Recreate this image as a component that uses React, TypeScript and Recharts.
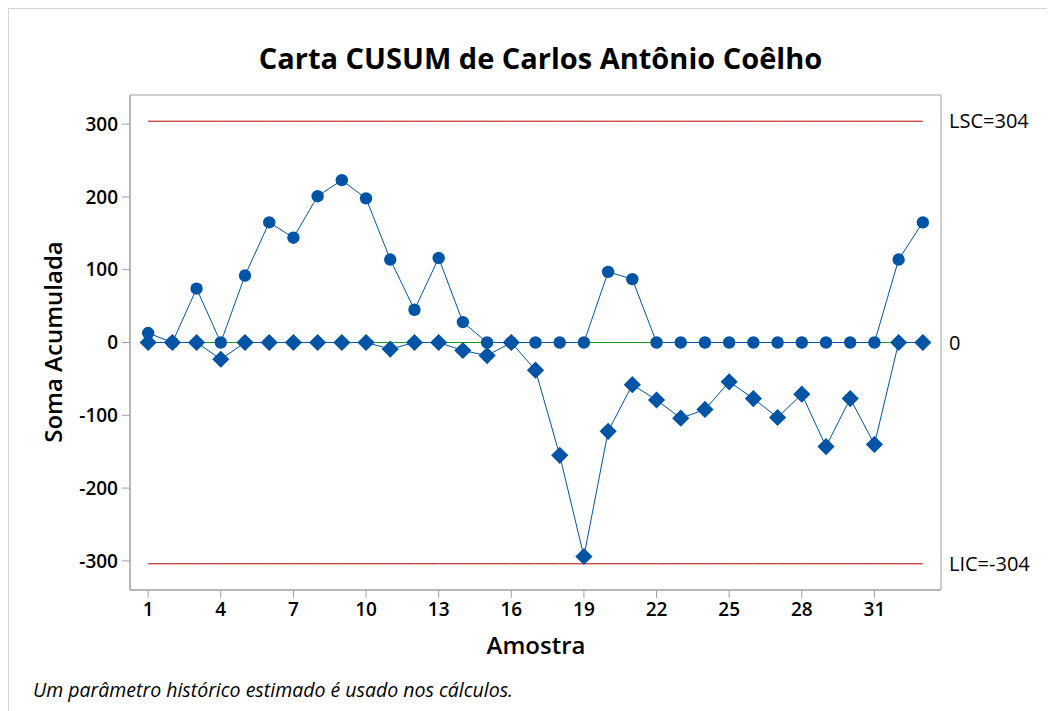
import { ComposedChart, Line, XAxis, YAxis, ReferenceArea } from 'recharts';

const samples = [1, 2, 3, 4, 5, 6, 7, 8, 9, 10, 11, 12, 13, 14, 15, 16, 17, 18, 19, 20, 21, 22, 23, 24, 25, 26, 27, 28, 29, 30, 31, 32, 33];
const upperCusum = [13, 0, 74, 0, 92, 165, 144, 201, 223, 198, 114, 45, 116, 28, 0, 0, 0, 0, 0, 97, 87, 0, 0, 0, 0, 0, 0, 0, 0, 0, 0, 114, 165];
const lowerCusum = [0, 0, 0, -23, 0, 0, 0, 0, 0, 0, -9, 0, 0, -11, -18, 0, -38, -155, -294, -122, -58, -79, -104, -92, -54, -77, -103, -71, -143, -77, -140, 0, 0];
const upperLimit = 304;
const lowerLimit = -304;
const centerLine = 0;

const xDomain = [0.25, 33.75];
const yDomain = [-340, 340];
const xTicks = [1, 4, 7, 10, 13, 16, 19, 22, 25, 28, 31];
const yTicks = [-300, -200, -100, 0, 100, 200, 300];
const limitTicks = [lowerLimit, centerLine, upperLimit];
const limitLabels = ['LIC=-304', '0', 'LSC=304'];

const BLUE = '#0054A6';
const FONT = "'Open Sans', 'Noto Sans', sans-serif";

const data = samples.map((s, i) => ({
  sample: s,
  upper: upperCusum[i],
  lower: lowerCusum[i],
  lsc: upperLimit,
  lic: lowerLimit,
  center: centerLine,
}));

const CircleDot = (props: any) => {
  const { cx, cy, index } = props;
  if (cx == null || cy == null) return null;
  return <circle key={`c-${index}`} cx={cx} cy={cy} r={6.2} fill={BLUE} stroke="none" />;
};

const DiamondDot = (props: any) => {
  const { cx, cy, index } = props;
  if (cx == null || cy == null) return null;
  const h = 8.6;
  return (
    <path
      key={`d-${index}`}
      d={`M${cx},${cy - h}L${cx + h},${cy}L${cx},${cy + h}L${cx - h},${cy}Z`}
      fill={BLUE}
      stroke="none"
    />
  );
};

export default function App() {
  return (
    <div
      style={{
        position: 'relative',
        width: 1047,
        height: 703,
        borderTop: '1px solid #d4d4d4',
        borderLeft: '1px solid #d4d4d4',
        boxSizing: 'border-box',
        fontFamily: FONT,
        background: '#fff',
      }}
    >
      <div
        style={{
          position: 'absolute',
          left: 13,
          width: 1037,
          top: 29,
          textAlign: 'center',
          fontSize: 29,
          fontWeight: 700,
          color: '#000',
        }}
      >
        Carta CUSUM de Carlos Antônio Coêlho
      </div>
      <div
        style={{
          position: 'absolute',
          left: 44 - 150,
          top: 333 - 16,
          width: 300,
          textAlign: 'center',
          fontSize: 24,
          fontWeight: 600,
          transform: 'rotate(-90deg)',
          lineHeight: '32px',
        }}
      >
        Soma Acumulada
      </div>
      <div
        style={{
          position: 'absolute',
          left: 377,
          width: 300,
          top: 619,
          textAlign: 'center',
          fontSize: 24,
          fontWeight: 600,
        }}
      >
        Amostra
      </div>
      <div
        style={{
          position: 'absolute',
          left: 24,
          top: 667,
          fontSize: 19.5,
          fontStyle: 'italic',
        }}
      >
        Um parâmetro histórico estimado é usado nos cálculos.
      </div>
      <div style={{ position: 'absolute', left: 0, top: 0 }}>
        <ComposedChart
          width={1037}
          height={693}
          data={data}
          margin={{ top: 86, right: 5, bottom: 72, left: 51 }}
        >
          <XAxis
            dataKey="sample"
            type="number"
            domain={xDomain}
            ticks={xTicks}
            allowDataOverflow
            tickSize={8}
            tickMargin={5}
            height={40}
            stroke="#a0a0a0"
            tick={{ fill: '#000', fontSize: 19, fontWeight: 600, fontFamily: FONT }}
          />
          <YAxis
            yAxisId="left"
            type="number"
            domain={yDomain}
            ticks={yTicks}
            allowDataOverflow
            width={70}
            tickSize={8}
            tickMargin={4}
            stroke="#a0a0a0"
            tick={{ fill: '#000', fontSize: 19, fontWeight: 600, fontFamily: FONT }}
          />
          <YAxis
            yAxisId="right"
            orientation="right"
            type="number"
            domain={yDomain}
            ticks={limitTicks}
            allowDataOverflow
            width={100}
            axisLine={false}
            tickLine={false}
            tickSize={0}
            tickMargin={8}
            tickFormatter={(v: number) => limitLabels[limitTicks.indexOf(v)]}
            tick={{ fill: '#000', fontSize: 20, fontFamily: FONT, textAnchor: 'start' }}
          />
          <ReferenceArea
            yAxisId="left"
            x1={xDomain[0]}
            x2={xDomain[1]}
            y1={yDomain[0]}
            y2={yDomain[1]}
            fill="none"
            fillOpacity={0}
            stroke="#a0a0a0"
            strokeWidth={1}
            ifOverflow="visible"
          />
          <Line yAxisId="left" dataKey="lsc" stroke="#B80000" strokeWidth={1} dot={false} isAnimationActive={false} />
          <Line yAxisId="left" dataKey="lic" stroke="#B80000" strokeWidth={1} dot={false} isAnimationActive={false} />
          <Line yAxisId="left" dataKey="center" stroke="#1A9A1A" strokeWidth={1} dot={false} isAnimationActive={false} />
          <Line yAxisId="left" dataKey="upper" stroke={BLUE} strokeWidth={1} dot={CircleDot} activeDot={false} isAnimationActive={false} />
          <Line yAxisId="left" dataKey="lower" stroke={BLUE} strokeWidth={1} dot={DiamondDot} activeDot={false} isAnimationActive={false} />
        </ComposedChart>
      </div>
    </div>
  );
}
